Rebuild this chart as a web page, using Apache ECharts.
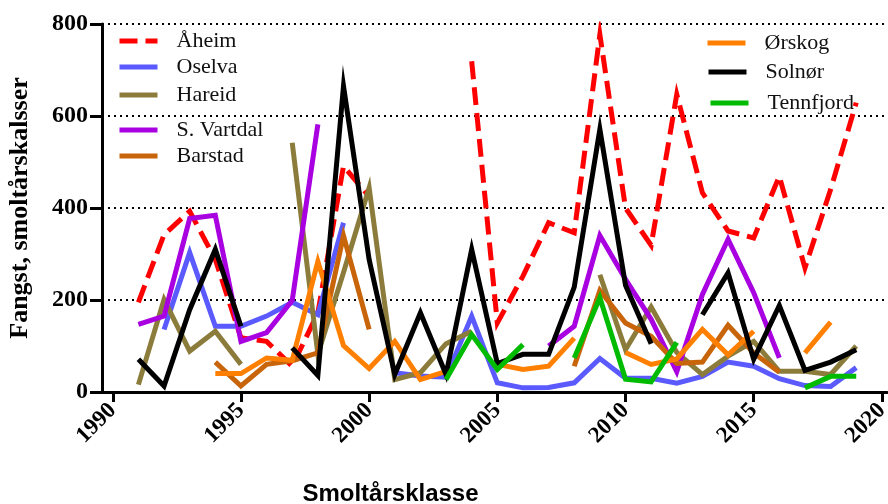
<!DOCTYPE html>
<html>
<head>
<meta charset="utf-8">
<script src="https://cdn.jsdelivr.net/npm/echarts@6/dist/echarts.min.js"></script>
<style>html,body{margin:0;padding:0;background:#fff;}#c{width:888px;height:504px;}</style>
</head>
<body>
<div id="c"></div>
<script>
// ---- data ----
var years = [1991,1992,1993,1994,1995,1996,1997,1998,1999,2000,2001,2002,2003,2004,2005,2006,2007,2008,2009,2010,2011,2012,2013,2014,2015,2016,2017,2018,2019];
var aheim     = [195,342,393,288,118,110,56,172,491,425,null,null,null,719,150,252,368,346,777,400,319,647,433,350,335,469,270,440,629];
var oselva    = [null,136,303,143,143,165,195,168,368,null,42,35,32,165,20,9,10,20,73,30,30,19,34,65,56,29,14,12,53];
var hareid    = [16,201,89,132,60,null,542,82,260,444,27,42,105,132,null,null,null,null,255,92,185,86,38,78,110,45,45,38,100];
var vartdal   = [147,165,377,384,110,129,199,582,null,null,null,null,null,null,null,null,100,143,340,245,158,44,212,332,216,74,null,null,null];
var barstad   = [null,null,null,65,13,60,68,85,340,136,null,null,null,null,null,null,null,56,221,150,121,62,65,145,85,43,null,null,null];
var orskog    = [null,null,null,40,40,74,69,284,101,51,110,27,45,null,60,49,56,117,null,86,60,72,136,81,132,null,85,152,null];
var solnor    = [71,13,179,310,143,null,96,36,665,288,38,172,38,310,62,82,82,228,571,232,105,null,168,259,71,188,47,65,92];
var tennfjord = [null,null,null,null,null,null,null,null,null,null,null,null,27,125,49,103,null,74,205,28,22,108,null,null,null,null,9,34,34];
var xTicks = [1990,1995,2000,2005,2010,2015,2020];
var yTicks = [0,200,400,600,800];

var names  = ['Åheim','Oselva','Hareid','S. Vartdal','Barstad','Ørskog','Solnør','Tennfjord'];
var values = [aheim,oselva,hareid,vartdal,barstad,orskog,solnor,tennfjord];
var colors = ['#ff0000','#5a5aff','#8c7c3c','#a800e0','#c8640a','#ff8000','#000000','#00bb00'];

function pairs(arr){ return years.map(function(y,i){ return [y, arr[i] == null ? '-' : arr[i]]; }); }

var series = names.map(function(n,i){
  return {
    name: n, type: 'line', symbol: 'none', showSymbol: false, connectNulls: false,
    data: pairs(values[i]),
    lineStyle: { color: colors[i], width: 5, type: i === 0 ? [18, 8] : 'solid', cap: 'butt', join: 'miter' },
    itemStyle: { color: colors[i] },
    z: 2 + i
  };
});

// legend placement
var legendPos = [
  {left:117, top:30}, {left:117, top:56}, {left:117, top:84}, {left:117, top:119}, {left:117, top:145},
  {left:705, top:32}, {left:706, top:61}, {left:708, top:92}
];
var legends = names.map(function(n,i){
  return {
    data: [n], left: legendPos[i].left, top: legendPos[i].top,
    itemWidth: 38, itemHeight: 14, padding: 0,
    itemStyle: { color: 'transparent', borderWidth: 0 },
    lineStyle: { width: 5 },
    textStyle: { fontFamily: 'Liberation Serif', fontSize: 22, color: '#111', padding: [0,0,0,14] },
    selectedMode: false
  };
});

var chart = echarts.init(document.getElementById('c'), null, {renderer: 'canvas'});
chart.setOption({
  animation: false,
  backgroundColor: '#fff',
  legend: legends,
  grid: { left: 102, right: 1, top: 24, bottom: 112, containLabel: false, outerBoundsMode: 'none' },
  xAxis: {
    type: 'value', min: 1989.58, max: 2020.2,
    name: 'Smoltårsklasse', nameLocation: 'middle', nameGap: 90,
    nameTextStyle: { fontFamily: 'Liberation Sans', fontWeight: 'bold', fontSize: 24, color: '#000', padding: [0, 208, 0, 0] },
    axisLine: { show: true, onZero: false, lineStyle: { color: '#000', width: 3 } },
    axisTick: { show: true, length: 10, lineStyle: { color: '#000', width: 3 }, customValues: xTicks },
    axisLabel: { rotate: 45, margin: 15, fontFamily: 'Liberation Serif', fontWeight: 'bold', fontSize: 23, color: '#000', customValues: xTicks,
      formatter: function(v){ return String(Math.round(v)); } },
    splitLine: { show: false }
  },
  yAxis: {
    type: 'value', min: 0, max: 800, interval: 200,
    name: 'Fangst, smoltårskalsser', nameLocation: 'middle', nameGap: 69, nameRotate: 90,
    nameTextStyle: { fontFamily: 'Liberation Serif', fontWeight: 'bold', fontSize: 26, color: '#000' },
    axisLine: { show: true, lineStyle: { color: '#000', width: 3 } },
    axisTick: { show: true, length: 12, lineStyle: { color: '#000', width: 3 } },
    axisLabel: { margin: 14, fontFamily: 'Liberation Serif', fontWeight: 'bold', fontSize: 24, color: '#000',
      formatter: function(v){ return String(v); } },
    splitLine: { show: true, lineStyle: { color: '#000', width: 2, type: [2, 4] } }
  },
  series: series
});
</script>
</body>
</html>
